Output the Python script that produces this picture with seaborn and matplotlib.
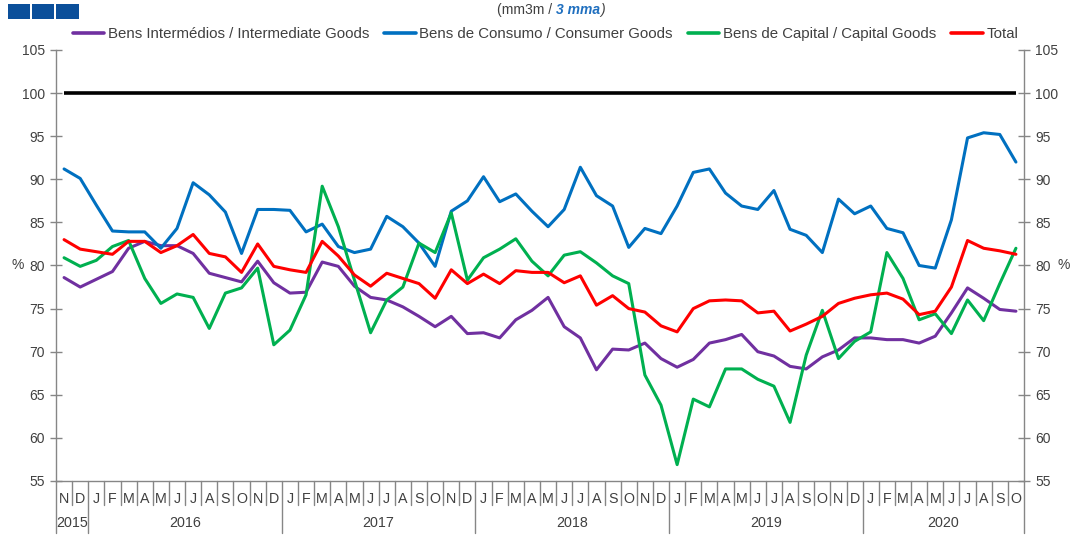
import numpy as np
import pandas as pd
import matplotlib
matplotlib.use("Agg")
import matplotlib.pyplot as plt
from matplotlib.patches import Rectangle
from matplotlib.lines import Line2D
import seaborn as sns

# monthly 3mma, Nov 2015 - Oct 2020
months = ["N", "D"] + ["J", "F", "M", "A", "M", "J", "J", "A", "S", "O", "N", "D"] * 4 + \
         ["J", "F", "M", "A", "M", "J", "J", "A", "S", "O"]
years = ["2015", "2016", "2017", "2018", "2019", "2020"]
year_lengths = [2, 12, 12, 12, 12, 10]

series_names = ["Bens Intermédios / Intermediate Goods",
                "Bens de Consumo / Consumer Goods",
                "Bens de Capital / Capital Goods",
                "Total"]
series_colors = ["#7030A0", "#0070C0", "#00B050", "#FF0000"]

intermediate = [78.6, 77.5, 78.4, 79.3, 82.0, 82.8, 82.3, 82.3, 81.4, 79.1, 78.6, 78.1,
                80.5, 78.0, 76.8, 76.9, 80.4, 79.9, 77.6, 76.3, 76.0, 75.2, 74.1, 72.9,
                74.1, 72.1, 72.2, 71.6, 73.7, 74.8, 76.3, 72.9, 71.6, 67.9, 70.3, 70.2,
                71.0, 69.2, 68.2, 69.1, 71.0, 71.4, 72.0, 70.0, 69.5, 68.3, 68.0, 69.4,
                70.2, 71.6, 71.6, 71.4, 71.4, 71.0, 71.8, 74.5, 77.4, 76.2, 74.9, 74.7]
consumer = [91.2, 90.1, 87.0, 84.0, 83.9, 83.9, 82.0, 84.3, 89.6, 88.2, 86.2, 81.4,
            86.5, 86.5, 86.4, 83.9, 84.8, 82.2, 81.5, 81.9, 85.7, 84.5, 82.6, 79.9,
            86.3, 87.5, 90.3, 87.4, 88.3, 86.3, 84.5, 86.5, 91.4, 88.1, 86.9, 82.1,
            84.3, 83.7, 86.9, 90.8, 91.2, 88.4, 86.9, 86.5, 88.7, 84.2, 83.5, 81.5,
            87.7, 86.0, 86.9, 84.3, 83.8, 80.0, 79.7, 85.3, 94.8, 95.4, 95.2, 92.0]
capital = [80.9, 79.9, 80.6, 82.2, 82.9, 78.5, 75.6, 76.7, 76.3, 72.7, 76.8, 77.4,
           79.7, 70.8, 72.5, 76.6, 89.2, 84.5, 78.3, 72.2, 76.0, 77.5, 82.6, 81.5,
           86.1, 78.3, 80.9, 81.9, 83.1, 80.5, 78.8, 81.2, 81.6, 80.3, 78.8, 77.9,
           67.3, 63.8, 56.9, 64.5, 63.6, 68.0, 68.0, 66.8, 66.0, 61.8, 69.6, 74.8,
           69.2, 71.2, 72.3, 81.5, 78.5, 73.7, 74.4, 72.1, 76.0, 73.6, 77.9, 82.0]
total = [83.0, 81.9, 81.6, 81.3, 82.8, 82.8, 81.5, 82.3, 83.6, 81.4, 81.0, 79.2,
         82.5, 79.9, 79.5, 79.2, 82.8, 81.1, 78.9, 77.6, 79.1, 78.5, 77.9, 76.2,
         79.5, 77.9, 79.0, 77.9, 79.4, 79.2, 79.2, 78.0, 78.8, 75.4, 76.5, 75.0,
         74.6, 73.0, 72.3, 75.0, 75.9, 76.0, 75.9, 74.5, 74.7, 72.4, 73.2, 74.1,
         75.6, 76.2, 76.6, 76.8, 76.1, 74.3, 74.7, 77.5, 82.9, 82.0, 81.7, 81.3]
reference_level = 100

sns.set_style("white")
plt.rcParams["font.family"] = ["Liberation Sans", "DejaVu Sans"]

W, H = 1074, 535
grey = "#868686"
txt = "#404040"

idx = np.arange(len(months))
df = pd.DataFrame({"idx": idx,
                   series_names[0]: intermediate,
                   series_names[1]: consumer,
                   series_names[2]: capital,
                   series_names[3]: total})
long_df = df.melt(id_vars="idx", var_name="serie", value_name="valor")

fig = plt.figure(figsize=(W / 100, H / 100), dpi=100)
ax = fig.add_axes([56 / W, 1 - 481 / H, (1024 - 56) / W, 431 / H])

ax.plot(idx, [reference_level] * len(idx), color="black", lw=2.6, solid_capstyle="butt")
sns.lineplot(data=long_df, x="idx", y="valor", hue="serie", hue_order=series_names,
             palette=series_colors, linewidth=2.2, ax=ax, legend=False)

ax.set_xlim(-0.5, len(months) - 0.5)
ax.set_ylim(55, 105)
ax.set_yticks(np.arange(55, 106, 5))
ax.set_xticks([])
ax.set_xlabel("")
ax.set_ylabel("")
ax.tick_params(axis="y", which="both", left=True, right=True, labelleft=True, labelright=True,
               direction="inout", length=8, width=1, color=grey, labelsize=10,
               labelcolor=txt, pad=4)
ax.spines["top"].set_visible(False)
for s in ["left", "right", "bottom"]:
    ax.spines[s].set_color(grey)
    ax.spines[s].set_linewidth(1)

# vertical axes continue down through the month/year rows
ax.plot([0, 0], [0, -0.121], transform=ax.transAxes, color=grey, lw=1, clip_on=False)
ax.plot([1, 1], [0, -0.121], transform=ax.transAxes, color=grey, lw=1, clip_on=False)

xt = ax.get_xaxis_transform()
for i, m in enumerate(months):
    ax.text(i, -0.042, m, transform=xt, ha="center", va="center", fontsize=10.3, color=txt)

bounds = np.cumsum(year_lengths)
for b in bounds[:-1]:
    ax.plot([b - 0.5, b - 0.5], [0, -0.121], transform=xt, color=grey, lw=1, clip_on=False)
for i in range(len(months) - 1):
    if (i + 1) not in bounds:
        ax.plot([i + 0.5, i + 0.5], [0, -0.056], transform=xt, color=grey, lw=1, clip_on=False)

start = -0.5
for y, n in zip(years, year_lengths):
    ax.text(start + n / 2, -0.097, y, transform=xt, ha="center", va="center", fontsize=10.3, color=txt)
    start += n

yt = ax.get_yaxis_transform()
ax.text(-38 / 968, 80, "%", transform=yt, ha="center", va="center", fontsize=10, color=txt)
ax.text(1 + 40 / 968, 80, "%", transform=yt, ha="center", va="center", fontsize=10, color=txt)

handles = [Line2D([0], [0], color=c, lw=2.6) for c in series_colors]
leg = fig.legend(handles, series_names, loc="center", bbox_to_anchor=(0.508, 1 - 34 / H),
                 ncol=4, frameon=False, fontsize=10.8, handlelength=2.1, handletextpad=0.25,
                 columnspacing=1.0)
for t in leg.get_texts():
    t.set_color(txt)

# logo squares
for x0 in [7.6, 31.7, 56.0]:
    fig.add_artist(Rectangle((x0 / W, 1 - 19.3 / H), 22.6 / W, 15 / H,
                             transform=fig.transFigure, color="#0B4F9A", lw=0))

# title with mixed styling
fig.canvas.draw()
r = fig.canvas.get_renderer()
inv = fig.transFigure.inverted()
t1 = fig.text(497 / W, 1 - 10 / H, "(mm3m / ", ha="left", va="center", fontsize=10, color=txt)
x1 = inv.transform((t1.get_window_extent(r).x1, 0))[0]
t2 = fig.text(x1, 1 - 10 / H, "3 mma", ha="left", va="center", fontsize=10,
              color="#1F6FBF", style="italic", weight="bold")
x2 = inv.transform((t2.get_window_extent(r).x1, 0))[0]
fig.text(x2, 1 - 10 / H, ")", ha="left", va="center", fontsize=10, color=txt, style="italic")

fig.savefig("out.png", dpi=100)
